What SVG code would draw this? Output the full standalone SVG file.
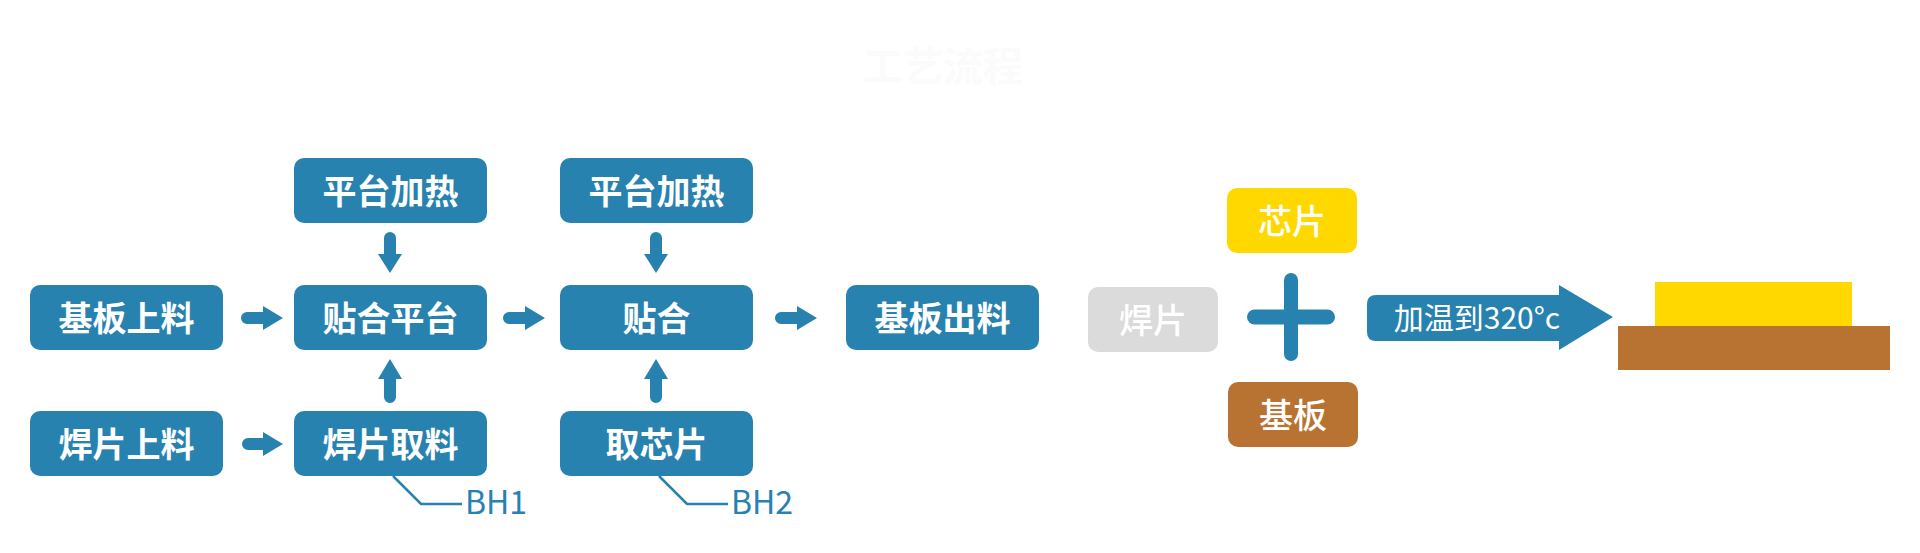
<svg xmlns="http://www.w3.org/2000/svg" width="1920" height="553" viewBox="0 0 1920 553">
<style>
.box{fill:#2882b0}
.lbl{font-family:"Noto Sans CJK SC","Noto Sans",sans-serif;font-size:34px;font-weight:bold;fill:#ffffff;text-anchor:middle}
.lbl2{font-family:"Noto Sans CJK SC","Noto Sans",sans-serif;font-size:34px;font-weight:500;fill:#ffffff;text-anchor:middle}
.arr{fill:#2882b0}
.lead{fill:none;stroke:#2882b0;stroke-width:2.5}
.bh{font-family:"Noto Sans CJK SC","Noto Sans",sans-serif;font-size:32px;fill:#2882b0}
</style>
<rect width="1920" height="553" fill="#ffffff"/>
<text x="943" y="81" style="font-family:'Noto Sans CJK SC',sans-serif;font-size:40px;font-weight:bold;fill:#fbfbfb;text-anchor:middle">工艺流程</text>
<g id="n-heat1"><rect class="box" x="294" y="158" width="193" height="65" rx="10"/><text class="lbl" x="390.5" y="203.5">平台加热</text></g>
<g id="n-heat2"><rect class="box" x="560" y="158" width="193" height="65" rx="10"/><text class="lbl" x="656.5" y="203.5">平台加热</text></g>
<g id="n-sub-load"><rect class="box" x="30" y="285" width="193" height="65" rx="10"/><text class="lbl" x="126.5" y="330.5">基板上料</text></g>
<g id="n-platform"><rect class="box" x="294" y="285" width="193" height="65" rx="10"/><text class="lbl" x="390.5" y="330.5">贴合平台</text></g>
<g id="n-bond"><rect class="box" x="560" y="285" width="193" height="65" rx="10"/><text class="lbl" x="656.5" y="330.5">贴合</text></g>
<g id="n-sub-out"><rect class="box" x="846" y="285" width="193" height="65" rx="10"/><text class="lbl" x="942.5" y="330.5">基板出料</text></g>
<g id="n-pre-load"><rect class="box" x="30" y="411" width="193" height="65" rx="10"/><text class="lbl" x="126.5" y="456.5">焊片上料</text></g>
<g id="n-pre-pick"><rect class="box" x="294" y="411" width="193" height="65" rx="10"/><text class="lbl" x="390.5" y="456.5">焊片取料</text></g>
<g id="n-chip-pick"><rect class="box" x="560" y="411" width="193" height="65" rx="10"/><text class="lbl" x="656.5" y="456.5">取芯片</text></g>
<g id="n-bh1"><path class="lead" d="M393,476 L421,504 H462"/><text class="bh" x="465" y="514">BH1</text></g>
<g id="n-bh2"><path class="lead" d="M659,476 L687,504 H728"/><text class="bh" x="731" y="514">BH2</text></g>
<g id="connectors">
<path class="arr" d="M384,254 V238 A6,6 0 0 1 396,238 V254 H402 L390,273 L378,254 Z"/>
<path class="arr" d="M650,254 V238 A6,6 0 0 1 662,238 V254 H668 L656,273 L644,254 Z"/>
<path class="arr" d="M384,379 V397 A6,6 0 0 0 396,397 V379 H402 L390,359 L378,379 Z"/>
<path class="arr" d="M650,379 V397 A6,6 0 0 0 662,397 V379 H668 L656,359 L644,379 Z"/>
<path class="arr" d="M263,312 H247 A6,6 0 0 0 247,324 H263 V330 L283,318 L263,306 Z"/>
<path class="arr" d="M525,312 H509 A6,6 0 0 0 509,324 H525 V330 L545,318 L525,306 Z"/>
<path class="arr" d="M797,312 H781 A6,6 0 0 0 781,324 H797 V330 L817,318 L797,306 Z"/>
<path class="arr" d="M263,438 H248 A6,6 0 0 0 248,450 H263 V456 L283,444 L263,432 Z"/>
</g>
<g id="n-preform"><rect x="1088" y="287" width="130" height="65" rx="10" fill="#dbdbdb"/><text class="lbl2" x="1153" y="332.5">焊片</text></g>
<g id="n-chip"><rect x="1227" y="188" width="130" height="65" rx="10" fill="#ffd800"/><text class="lbl2" x="1292" y="233.5">芯片</text></g>
<g id="n-substrate"><rect x="1228" y="382" width="130" height="65" rx="10" fill="#b87333"/><text class="lbl2" x="1293" y="427.5">基板</text></g>
<g id="n-plus"><rect x="1284" y="273" width="14" height="88" rx="7" fill="#2882b0"/><rect x="1247" y="309.5" width="88" height="15" rx="7.5" fill="#2882b0"/></g>
<g id="n-heat-arrow"><path fill="#2882b0" d="M1376,295 H1559 V285 L1613,317 L1559,350 V341 H1376 Q1367,341 1367,332 V304 Q1367,295 1376,295 Z"/><text x="1477" y="329" style="font-family:'Noto Sans CJK SC','Noto Sans',sans-serif;font-size:30px;fill:#ffffff;text-anchor:middle">加温到320°c</text></g>
<g id="n-result"><rect x="1655" y="282" width="197" height="45" fill="#ffd800"/><rect x="1618" y="326" width="272" height="44" fill="#b87333"/></g>
</svg>
